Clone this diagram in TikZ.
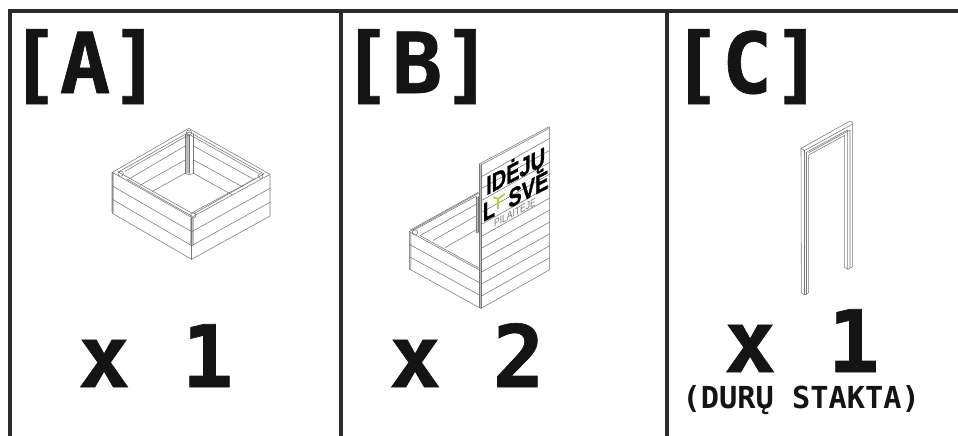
\documentclass[tikz,border=0pt]{standalone}
\usepackage{fontspec}
\setmainfont{DejaVu Sans Mono}
\newfontfamily\heavyfont{DejaVu Sans Mono Bold}[FakeBold=0.8]
\newfontfamily\logofont{Liberation Sans}
\newfontfamily\logoheavy{Liberation Sans Bold}[FakeBold=1.2]
\definecolor{frame}{HTML}{2B2B2B}
\definecolor{ln}{HTML}{777777}
\definecolor{side}{HTML}{BDBDBD}
\definecolor{sprout}{HTML}{B5D334}
\tikzset{
  divider/.style={draw=frame,line width=4pt},
  thin ink/.style={draw=ln,line width=0.55pt,line join=round,line cap=round},
  big/.style={font=\heavyfont\fontsize{#1}{#1}\selectfont,text=black!92,inner sep=0pt,anchor=base west},
  small label/.style={font=\bfseries\fontsize{30.3}{30.3}\selectfont,text=black!92,inner sep=0pt,anchor=base west},
  zoomed/.style={x=0.3333pt,y=-0.3333pt},
  logo/.style={cm={1,0.52,0,1.3,(0,0)},font=\logoheavy\fontsize{20}{20}\selectfont,inner sep=0pt,anchor=center},
}
\begin{document}
\begin{tikzpicture}[x=1pt,y=-1pt]
\useasboundingbox (0,0) rectangle (958,436);
\fill[white] (0,0) rectangle (958,436);
% frame
\coordinate (fl) at (10,436);
\coordinate (ftl) at (10,11);
\coordinate (ftr) at (958,11);
\coordinate (d1t) at (341,11);
\coordinate (d1b) at (341,436);
\coordinate (d2t) at (667,11);
\coordinate (d2b) at (667,436);
\draw[divider] (fl) -- (ftl) -- (ftr);
\draw[divider] (d1t) -- (d1b);
\draw[divider] (d2t) -- (d2b);
% labels
\node[big=84] (la) at (9,93) {[A]};
\node[big=84] (lb) at (341,93) {[B]};
\node[big=84] (lc) at (671,93) {[C]};
\node[big=86] (na) at (78,387) {x 1};
\node[big=86] (nb) at (389,387) {x 2};
\node[big=86] (nc) at (724,372) {x 1};
\node[small label] (nd) at (682.5,408) {(DURŲ STAKTA)};
% box A
\begin{scope}[shift={(90,110)},zoomed]
\fill[side] (64,187)--(72,187)--(72,310)--(64,306)--cycle;
\fill[side] (301,324)--(311,324)--(311,405)--(301,405)--cycle;
\fill[side] (287,70)--(297,72)--(297,190)--(287,190)--cycle;
\draw[thin ink] (296,55)--(67,187)--(67,310)--(305,448)--(540,318)--(540,193)--cycle;
\draw[thin ink] (67,187)--(305,322)--(540,193);
\draw[thin ink] (305,322)--(305,448);
\draw[thin ink] (298,66)--(85,186)--(305,309)--(522,192)--cycle;
\draw[thin ink] (297,74)--(105,184);
\draw[thin ink] (299,74)--(505,190);
\draw[thin ink] (110,207)--(305,318);
\draw[thin ink] (498,205)--(310,312);
\draw[thin ink] (67,228)--(305,365)--(540,235);
\draw[thin ink] (67,268)--(305,407)--(540,277);
\draw[thin ink] (285,72)--(285,190);
\draw[thin ink] (311,72)--(311,190);
\draw[thin ink] (298,74)--(298,190);
\draw[thin ink] (285,190)--(298,194)--(311,190);
\draw[thin ink] (285,108)--(115,208);
\draw[thin ink] (285,150)--(150,226);
\draw[thin ink] (285,190)--(187,244);
\draw[thin ink] (311,108)--(495,210);
\draw[thin ink] (311,150)--(460,232);
\draw[thin ink] (311,190)--(425,254);
\draw[thin ink] (297,68) circle[radius=8];
\draw[thin ink] (92,191) circle[radius=8];
\draw[thin ink] (310,316) circle[radius=8];
\draw[thin ink] (512,198) circle[radius=7];
\end{scope}
% box B
\begin{scope}[shift={(395,115)},zoomed]
\fill[side] (43,350)--(49,352)--(49,465)--(43,462)--cycle;
\fill[side] (253,147)--(258,150)--(258,580)--(253,578)--cycle;
\fill[side] (243,245)--(250,245)--(250,352)--(243,352)--cycle;
\draw[thin ink] (253,147)--(463,35)--(463,465)--(258,580)--(253,578)--(43,462)--(43,350)--(250,235);
\draw[thin ink] (253,147)--(253,578);
\draw[thin ink] (258,150)--(258,580);
\draw[thin ink] (258,150)--(463,40);
\draw[thin ink] (43,350)--(253,465);
\draw[thin ink] (43,388)--(253,503);
\draw[thin ink] (43,425)--(253,540);
\draw[thin ink] (46,345)--(250,232);
\draw[thin ink] (52,348)--(243,244);
\draw[thin ink] (75,362)--(243,268);
\draw[thin ink] (75,362)--(253,460);
\draw[thin ink] (60,352) circle[radius=8];
\draw[thin ink] (243,245)--(243,352);
\draw[thin ink] (250,245)--(250,352);
\draw[thin ink] (243,352)--(250,354);
\draw[thin ink] (243,303)--(115,376);
\draw[thin ink] (243,345)--(150,398);
\foreach \k in {1,...,11} {
  \draw[thin ink] (258,{150+35.8*\k})--(463,{35+35.8*\k});
}
\node[logo] (t1) at (362,170) {IDĖJŲ};
\node[logo] (t2) at (362,237) {L\,\,\,\,SVĖ};
\node[logo,font=\logofont\fontsize{8.5}{8.5}\selectfont,text=ln] (t3) at (360,290) {PILAITĖJE};
\draw[sprout,line width=1.8pt] (310,281)--(310,251);
\draw[sprout,line width=1.8pt] (310,251)--(294,247);
\draw[sprout,line width=1.8pt] (310,251)--(330,237);
\end{scope}
% door C
\begin{scope}[shift={(760,110)},zoomed]
\draw[thin ink] (123,115)--(270,33)--(278,37)--(278,470)--(264,478)--(254,472)--(254,76)--(146,135)--(146,548)--(134,555)--(124,549)--cycle;
\draw[thin ink] (123,115)--(133,122)--(278,42);
\draw[thin ink] (133,122)--(133,553);
\draw[thin ink] (139,127)--(139,552);
\draw[thin ink] (139,127)--(263,60)--(263,476);
\draw[thin ink] (146,128)--(270,60)--(270,474);
\end{scope}
\end{tikzpicture}
\end{document}
